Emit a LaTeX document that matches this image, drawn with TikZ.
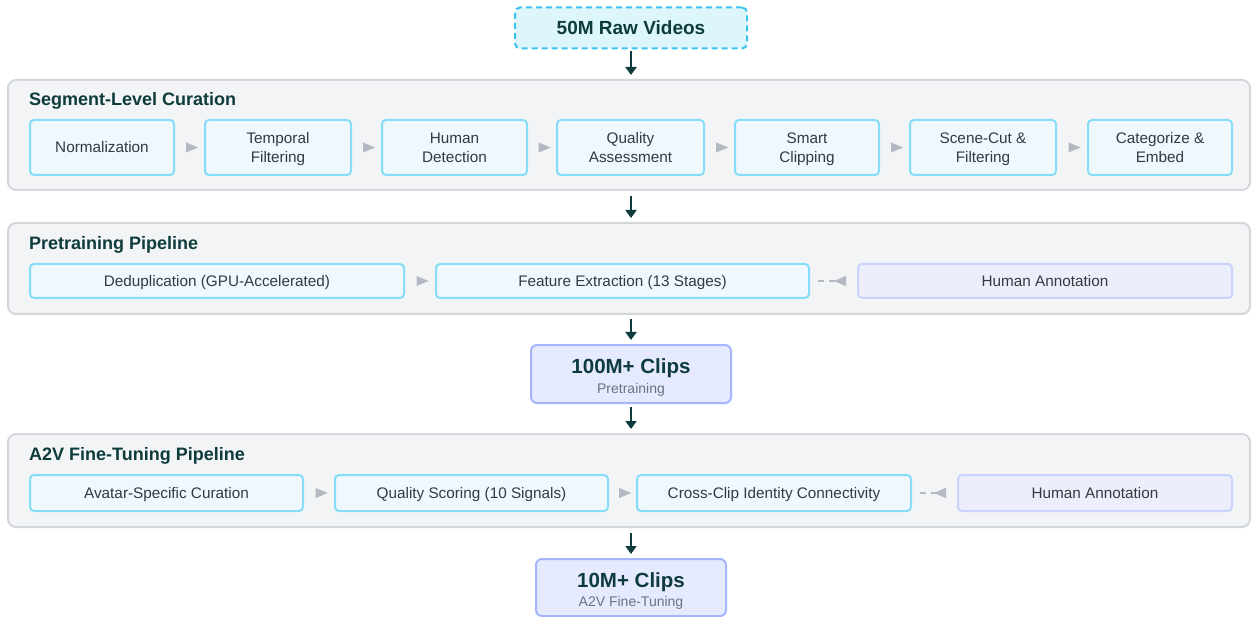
\documentclass[tikz,border=0pt]{standalone}
\usepackage{fontspec}
\setmainfont{Liberation Sans}
\usetikzlibrary{arrows.meta,shapes.geometric}
\definecolor{teal}{HTML}{0E3B3B}
\definecolor{bodytxt}{HTML}{36393F}
\definecolor{subtxt}{HTML}{6B7280}
\definecolor{panelfill}{HTML}{F3F4F6}
\definecolor{paneldraw}{HTML}{D3D6DB}
\definecolor{boxfill}{HTML}{EEF8FD}
\definecolor{boxdraw}{HTML}{86DDF9}
\definecolor{annfill}{HTML}{ECEEFB}
\definecolor{anndraw}{HTML}{CAD3FC}
\definecolor{clipfill}{HTML}{E6EAFE}
\definecolor{clipdraw}{HTML}{A5B4FC}
\definecolor{topfill}{HTML}{DDF6FC}
\definecolor{topdraw}{HTML}{3CC4F0}
\definecolor{tricol}{HTML}{B3B9C3}
\tikzset{
  panel/.style={draw=paneldraw, fill=panelfill, line width=2pt, rounded corners=8pt, inner sep=0pt},
  ptitle/.style={anchor=west, inner sep=0pt, text=teal, text height=13pt, text depth=0pt,
     font=\fontsize{18}{21}\selectfont\bfseries},
  stage/.style={draw=boxdraw, fill=boxfill, line width=2pt, rounded corners=4pt, inner sep=0pt,
     align=center, text=bodytxt, text height=11pt, text depth=0pt, font=\fontsize{15.3}{19}\selectfont},
  annot/.style={stage, draw=anndraw, fill=annfill},
  clip/.style={draw=clipdraw, fill=clipfill, line width=2pt, rounded corners=6pt, inner sep=0pt, align=center},
  cliptitle/.style={inner sep=0pt, text=teal, text height=14.5pt, text depth=0pt, font=\fontsize{20.5}{23}\selectfont\bfseries},
  clipsub/.style={inner sep=0pt, text=subtxt, text height=10pt, text depth=0pt, font=\fontsize{14}{16}\selectfont},
  flow/.style={draw=teal, line width=2pt, -{Triangle[length=8pt,width=11pt]}},
  tri/.style={isosceles triangle, isosceles triangle apex angle=75, fill=tricol, inner sep=0pt,
     minimum height=12pt, minimum width=10pt, isosceles triangle stretches},
  back/.style={draw=tricol, line width=2pt, dash pattern=on 6pt off 5pt, -{Triangle[reversed,length=12pt,width=10pt]}},
}
\begin{document}
\begin{tikzpicture}[x=1pt,y=-1pt]
\useasboundingbox (0,0) rectangle (1252,617);
% top
\node[draw=topdraw, fill=topfill, line width=2pt, dash pattern=on 6pt off 4pt, rounded corners=5pt,
  minimum width=232pt, minimum height=41pt, inner sep=0pt, text=teal, text height=13.6pt, text depth=0pt,
  font=\fontsize{19}{22}\selectfont\bfseries] (raw) at (631,28) {50M Raw Videos};
% panel 1
\node[panel, minimum width=1242pt, minimum height=110pt] (p1) at (629,135) {};
\node[ptitle] (t1) at (29,99) {Segment-Level Curation};
\foreach \n/\a/\b/\h/\t in {s1/30/174/11/Normalization, s2/205/351/30/Temporal\\Filtering, s3/382/527/30/Human\\Detection,
  s4/557/704/30/Quality\\Assessment, s5/735/879/30/Smart\\Clipping, s6/910/1056/30/Scene-Cut \&\\Filtering,
  s7/1088/1232/30/Categorize \&\\Embed}{
  \pgfmathsetmacro\w{\b-\a}\pgfmathsetmacro\c{(\a+\b)/2}
  \node[stage, text height=\h pt, minimum width=\w pt, minimum height=55pt] (\n) at (\c,147.5) {\t};
}
\foreach \i/\j in {s1/s2,s2/s3,s3/s4,s4/s5,s5/s6,s6/s7}{
  \path (\i.east) -- node[tri] {} (\j.west);
}
% panel 2
\node[panel, minimum width=1242pt, minimum height=91pt] (p2) at (629,268.5) {};
\node[ptitle] (t2) at (29,243) {Pretraining Pipeline};
\node[stage, minimum width=374pt, minimum height=34pt] (d1) at (217,281) {Deduplication (GPU-Accelerated)};
\node[stage, minimum width=373pt, minimum height=34pt] (d2) at (622.5,281) {Feature Extraction (13 Stages)};
\node[annot, minimum width=374pt, minimum height=34pt] (d3) at (1045,281) {Human Annotation};
\path (d1.east) -- node[tri] {} (d2.west);
\draw[back, shorten <=8pt, shorten >=11pt] (d2.east) -- (d3.west);
% clips 1
\node[clip, minimum width=200pt, minimum height=58pt] (c1) at (631,374) {};
\node[cliptitle] (c1a) at (631,366.5) {100M+ Clips};
\node[clipsub] (c1b) at (631,388) {Pretraining};
% panel 3
\node[panel, minimum width=1242pt, minimum height=93pt] (p3) at (629,480.5) {};
\node[ptitle] (t3) at (29,454) {A2V Fine-Tuning Pipeline};
\node[stage, minimum width=273pt, minimum height=36pt] (f1) at (166.5,493) {Avatar-Specific Curation};
\node[stage, minimum width=273pt, minimum height=36pt] (f2) at (471.5,493) {Quality Scoring (10 Signals)};
\node[stage, minimum width=274pt, minimum height=36pt] (f3) at (774,493) {Cross-Clip Identity Connectivity};
\node[annot, minimum width=274pt, minimum height=36pt] (f4) at (1095,493) {Human Annotation};
\path (f1.east) -- node[tri] {} (f2.west);
\path (f2.east) -- node[tri] {} (f3.west);
\draw[back, shorten <=8pt, shorten >=11pt] (f3.east) -- (f4.west);
% clips 2
\node[clip, minimum width=190pt, minimum height=57pt] (c2) at (631,587.5) {};
\node[cliptitle] (c2a) at (631,580.5) {10M+ Clips};
\node[clipsub] (c2b) at (631,601.5) {A2V Fine-Tuning};
% flow arrows
\draw[flow, shorten <=2pt, shorten >=4pt] (raw.south) -- (p1.north -| raw.south);
\draw[flow, shorten <=5pt, shorten >=4pt] (p1.south -| raw.south) -- (p2.north -| raw.south);
\draw[flow, shorten <=4pt, shorten >=4pt] (p2.south -| raw.south) -- (c1.north);
\draw[flow, shorten <=3pt, shorten >=4pt] (c1.south) -- (p3.north -| c1.south);
\draw[flow, shorten <=5pt, shorten >=4pt] (p3.south -| c1.south) -- (c2.north);
\end{tikzpicture}
\end{document}
